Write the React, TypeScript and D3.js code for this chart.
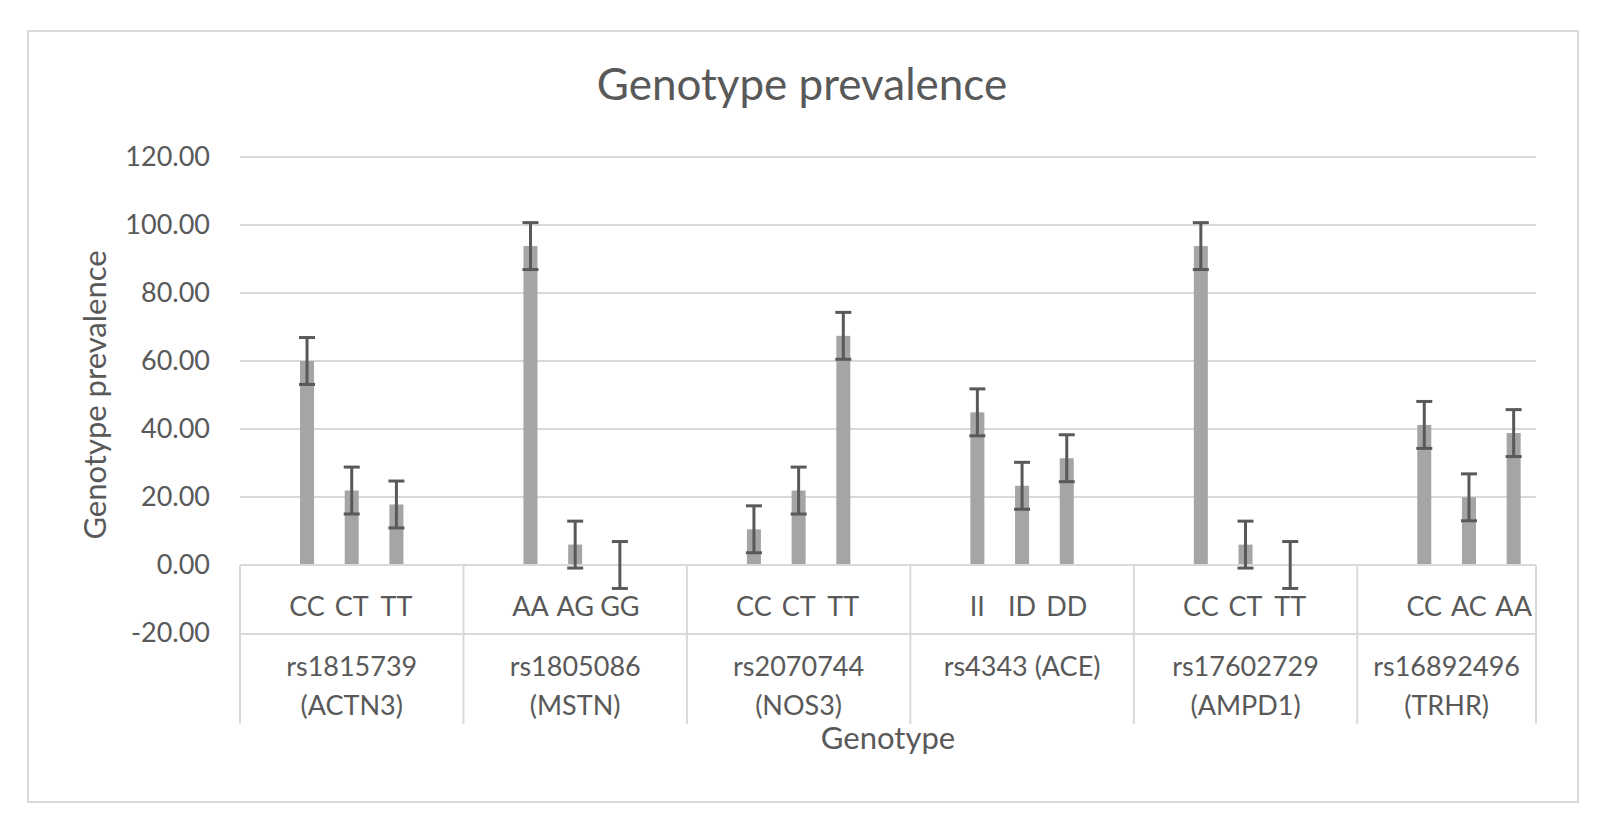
import React from "react";
import * as d3 from "d3";

// genotype groups (SNP) and their labels, wrapped as in the original
const groupLines: string[][] = [
  ["rs1815739", "(ACTN3)"],
  ["rs1805086", "(MSTN)"],
  ["rs2070744", "(NOS3)"],
  ["rs4343 (ACE)"],
  ["rs17602729", "(AMPD1)"],
  ["rs16892496", "(TRHR)"],
];

const genotypes: string[][] = [
  ["CC", "CT", "TT"],
  ["AA", "AG", "GG"],
  ["CC", "CT", "TT"],
  ["II", "ID", "DD"],
  ["CC", "CT", "TT"],
  ["CC", "AC", "AA"],
];

const prevalence: number[][] = [
  [60.0, 21.9, 17.8],
  [93.8, 6.0, 0],
  [10.5, 21.9, 67.4],
  [44.9, 23.3, 31.4],
  [93.8, 6.0, 0],
  [41.2, 19.9, 38.8],
];

// Excel "standard error" bars: one value for every point
const stdError = 6.9;

const yTicks = [-20, 0, 20, 40, 60, 80, 100, 120];

const W = 1606;
const H = 831;
const left = 240;
const right = 1536;
const font = "Lato, 'Open Sans', sans-serif";
const textColor = "#595959";
const lineColor = "#D9D9D9";

type Slot = { key: string; group: number; idx: number };

// each group: blank slot, three genotypes, blank slot (last group has no trailing blank)
const slots: Slot[] = [];
genotypes.forEach((g, gi) => {
  slots.push({ key: `${gi}-b0`, group: gi, idx: -1 });
  g.forEach((_, i) => slots.push({ key: `${gi}-${i}`, group: gi, idx: i }));
  if (gi < genotypes.length - 1) slots.push({ key: `${gi}-b1`, group: gi, idx: -1 });
});

const App: React.FC = () => {
  const x = d3
    .scaleBand<string>()
    .domain(slots.map((s) => s.key))
    .range([left, right])
    .paddingInner(0)
    .paddingOuter(0);

  const y = d3.scaleLinear().domain([-20, 120]).range([633, 157]);

  const slotW = x.bandwidth();
  const barW = slotW / 3.19;
  const capHalf = 8;

  const axisY = y(0);
  const levelSep = y(-20) + 1;
  const boxBottom = 724;

  // group boundary x positions
  const bounds: number[] = [];
  genotypes.forEach((_, gi) => {
    bounds.push(x(`${gi}-b0`)!);
  });
  bounds.push(right);

  // hyphen minus like Excel, not the unicode minus d3 uses
  const fmt = (t: number) => d3.format(".2f")(t).replace("\u2212", "-");

  return (
    <svg
      width={W}
      height={H}
      style={{ position: "absolute", left: 0, top: 0, background: "#fff" }}
      fontFamily={font}
    >
      <rect x={0} y={0} width={W} height={H} fill="#fff" />
      <rect
        x={28}
        y={31}
        width={1550}
        height={771}
        fill="#fff"
        stroke={lineColor}
        strokeWidth={2}
      />

      <text x={802} y={100} textAnchor="middle" fontSize={44} fill={textColor}>
        Genotype prevalence
      </text>

      {/* gridlines */}
      {yTicks
        .filter((t) => t > 0)
        .map((t) => (
          <line
            key={t}
            x1={left}
            x2={right}
            y1={y(t)}
            y2={y(t)}
            stroke={lineColor}
            strokeWidth={2}
          />
        ))}

      {/* y tick labels */}
      {yTicks.map((t) => (
        <text
          key={t}
          x={210}
          y={y(t)}
          dy="0.35em"
          textAnchor="end"
          fontSize={27}
          fill={textColor}
        >
          {fmt(t)}
        </text>
      ))}

      <text
        transform={`translate(95,${(y(120) + y(-20)) / 2}) rotate(-90)`}
        textAnchor="middle"
        dy="0.35em"
        fontSize={31}
        fill={textColor}
      >
        Genotype prevalence
      </text>

      {/* bars */}
      {slots
        .filter((s) => s.idx >= 0)
        .map((s) => {
          const v = prevalence[s.group][s.idx];
          const cx = x(s.key)! + slotW / 2;
          return (
            <rect
              key={s.key}
              x={cx - barW / 2}
              y={Math.min(y(v), axisY)}
              width={barW}
              height={Math.abs(axisY - y(v))}
              fill="#A5A5A5"
            />
          );
        })}

      {/* category axis box */}
      <line x1={left} x2={right} y1={axisY} y2={axisY} stroke={lineColor} strokeWidth={2} />
      <line x1={left} x2={right} y1={levelSep} y2={levelSep} stroke={lineColor} strokeWidth={2} />
      {bounds.map((b, i) => (
        <line
          key={i}
          x1={b}
          x2={b}
          y1={axisY}
          y2={boxBottom}
          stroke={lineColor}
          strokeWidth={2}
        />
      ))}

      {/* error bars */}
      {slots
        .filter((s) => s.idx >= 0)
        .map((s) => {
          const v = prevalence[s.group][s.idx];
          const cx = x(s.key)! + slotW / 2;
          const top = y(v + stdError);
          const bot = y(v - stdError);
          return (
            <g key={s.key} stroke="#595959" strokeWidth={3}>
              <line x1={cx} x2={cx} y1={top} y2={bot} />
              <line x1={cx - capHalf} x2={cx + capHalf} y1={top} y2={top} />
              <line x1={cx - capHalf} x2={cx + capHalf} y1={bot} y2={bot} />
            </g>
          );
        })}

      {/* genotype labels */}
      {slots
        .filter((s) => s.idx >= 0)
        .map((s) => (
          <text
            key={s.key}
            x={x(s.key)! + slotW / 2}
            y={616}
            textAnchor="middle"
            fontSize={27}
            fill={textColor}
          >
            {genotypes[s.group][s.idx]}
          </text>
        ))}

      {/* group labels */}
      {groupLines.map((lines, gi) => (
        <text
          key={gi}
          x={(bounds[gi] + bounds[gi + 1]) / 2}
          y={676}
          textAnchor="middle"
          fontSize={27}
          fill={textColor}
        >
          {lines.map((l, li) => (
            <tspan key={li} x={(bounds[gi] + bounds[gi + 1]) / 2} dy={li === 0 ? 0 : 39}>
              {l}
            </tspan>
          ))}
        </text>
      ))}

      <text x={(left + right) / 2} y={749} textAnchor="middle" fontSize={31} fill={textColor}>
        Genotype
      </text>
    </svg>
  );
};

export default App;
